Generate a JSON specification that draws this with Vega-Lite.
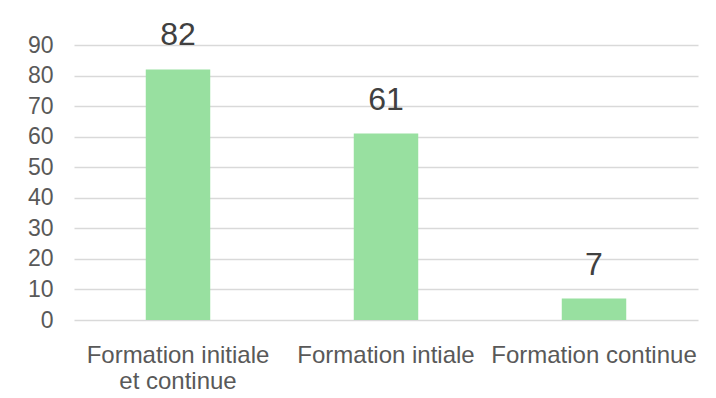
{
  "$schema": "https://vega.github.io/schema/vega-lite/v6.json",
  "width": 624,
  "height": 275,
  "autosize": "none",
  "padding": {"left": 74, "top": 45, "right": 18, "bottom": 78},
  "background": "white",
  "config": {
    "font": "Liberation Sans",
    "view": {"stroke": null}
  },
  "data": {
    "values": [
      {"categorie": "Formation initiale et continue", "valeur": 82},
      {"categorie": "Formation intiale", "valeur": 61},
      {"categorie": "Formation continue", "valeur": 7}
    ]
  },
  "encoding": {
    "x": {
      "field": "categorie",
      "type": "nominal",
      "sort": null,
      "scale": {"paddingInner": 0.69, "paddingOuter": 0.345},
      "axis": {
        "title": null,
        "labelAngle": 0,
        "domain": false,
        "ticks": false,
        "labelFontSize": 24,
        "labelColor": "#595959",
        "labelPadding": 23,
        "labelLineHeight": 26,
        "labelLimit": 300,
        "labelExpr": "datum.value == 'Formation initiale et continue' ? ['Formation initiale', 'et continue'] : datum.label"
      }
    },
    "y": {
      "field": "valeur",
      "type": "quantitative",
      "scale": {"domain": [0, 90]},
      "axis": {
        "title": null,
        "values": [0, 10, 20, 30, 40, 50, 60, 70, 80, 90],
        "domain": false,
        "ticks": false,
        "labelFontSize": 23,
        "labelColor": "#595959",
        "labelPadding": 21,
        "gridColor": "#d9d9d9",
        "gridWidth": 1.5
      }
    }
  },
  "layer": [
    {"mark": {"type": "bar", "color": "#98e0a0"}},
    {
      "mark": {"type": "text", "baseline": "bottom", "dy": -17, "fontSize": 32, "color": "#404040"},
      "encoding": {"text": {"field": "valeur", "type": "quantitative"}}
    }
  ]
}
